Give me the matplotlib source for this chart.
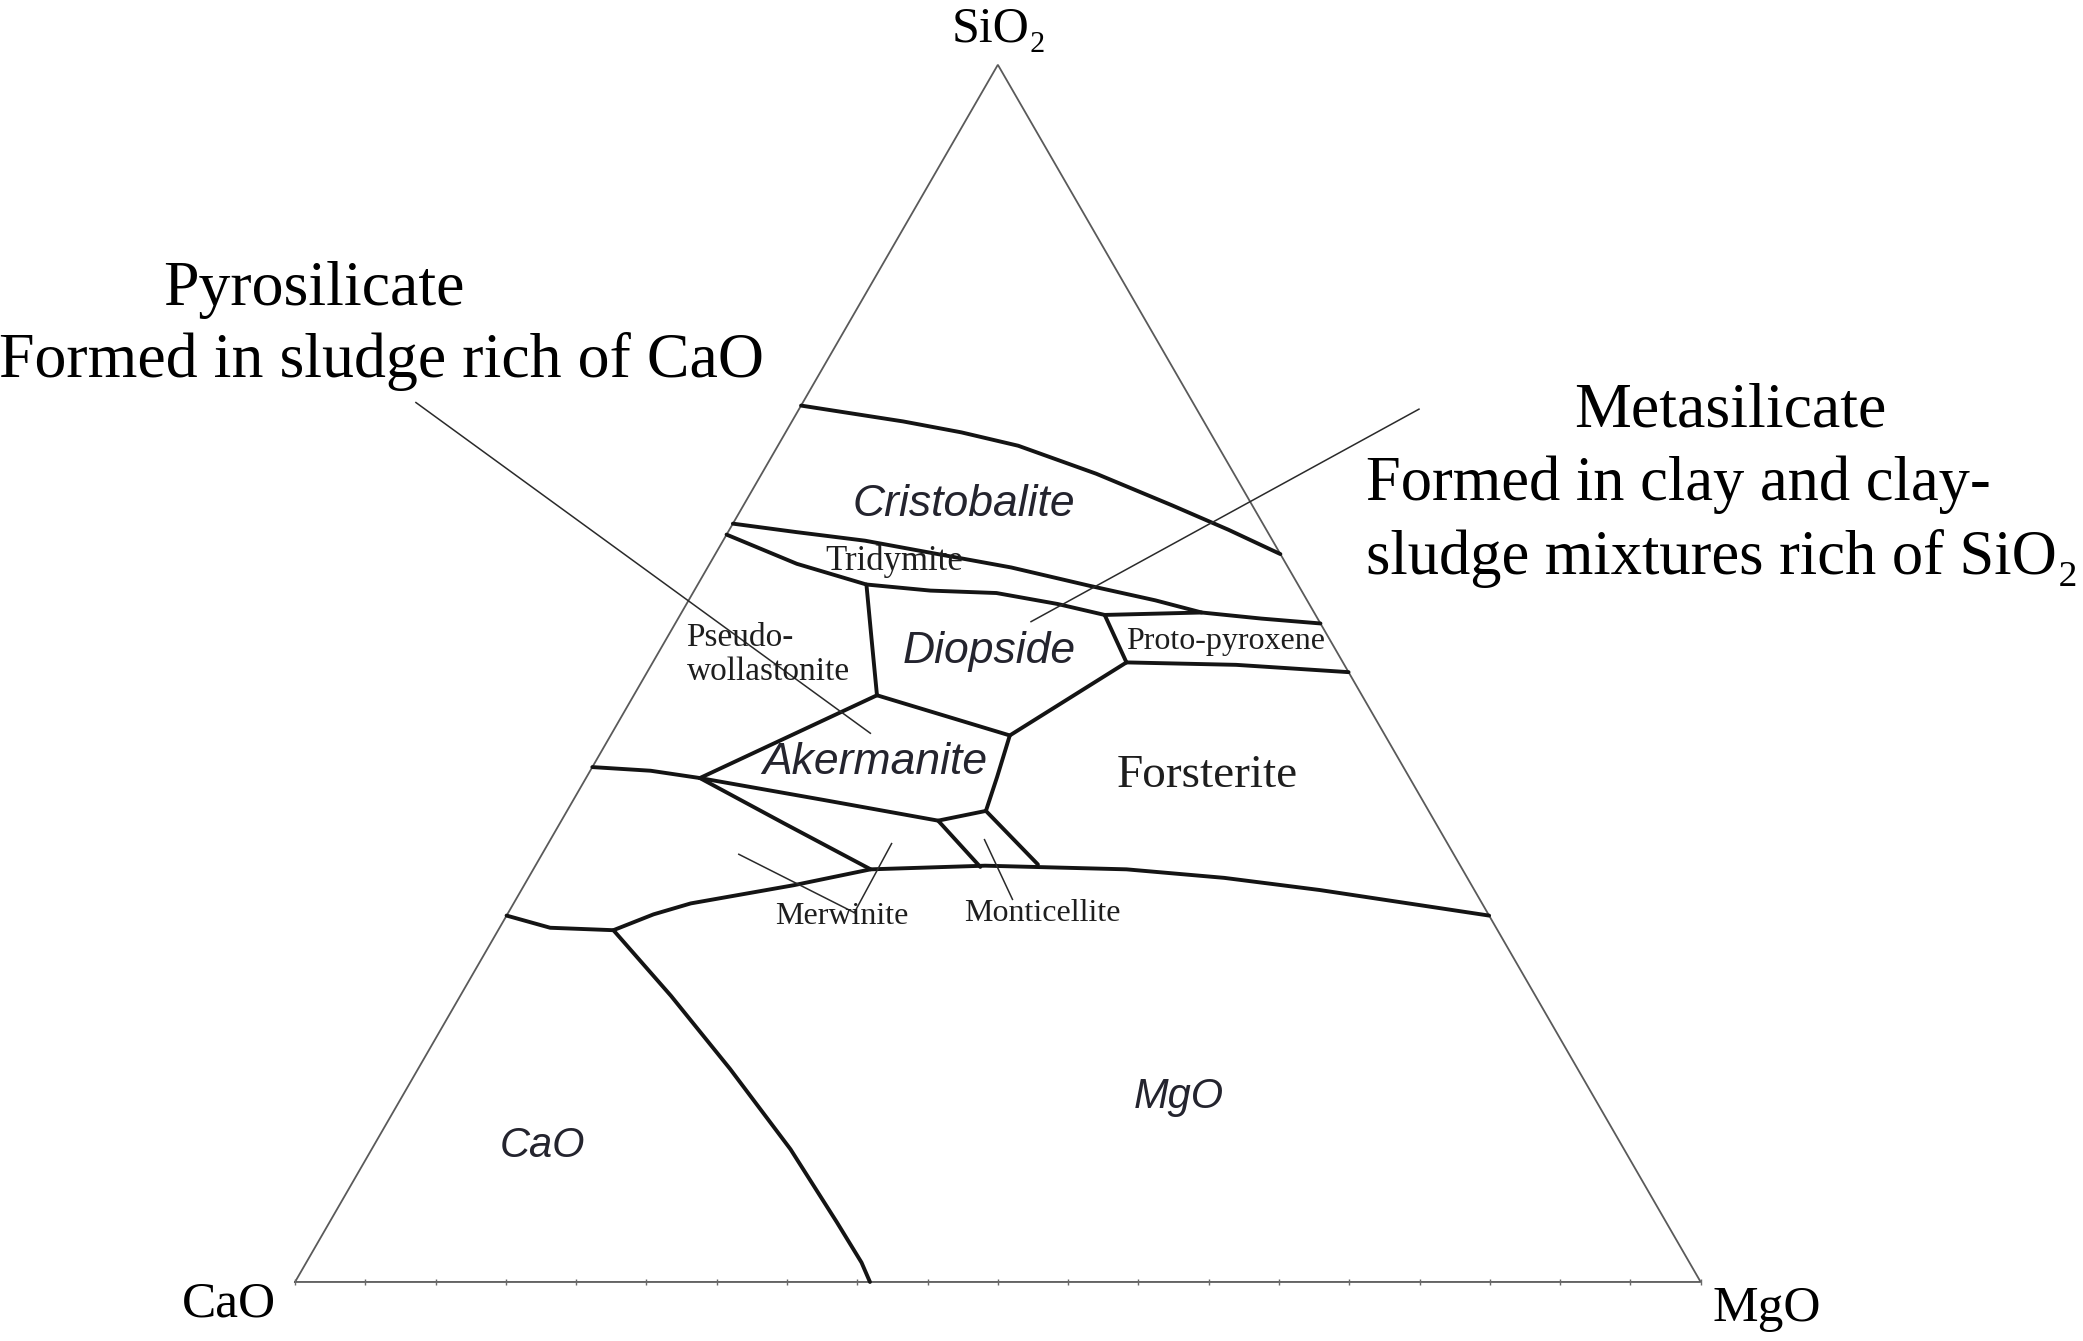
import numpy as np
import matplotlib
matplotlib.use("Agg")
import matplotlib.pyplot as plt

H = np.sqrt(3) / 2

# phase boundaries, points as (SiO2 %, MgO %), CaO is the rest
cristobalite_top = [(72.0, 0.0), (70.7, 7.9), (69.8, 12.5), (68.7, 17.1), (66.4, 23.8), (63.8, 30.5),
                    (61.8, 35.5), (59.8, 40.2)]
tridymite_top = [(62.3, 0.0), (61.6, 4.9), (60.9, 10.1), (59.9, 15.3), (58.7, 21.6),
                 (57.2, 27.9), (56.0, 33.2), (55.0, 37.0)]
protopyroxene_top = [(54.8, 30.2), (55.0, 37.0), (54.5, 41.5), (54.1, 45.9)]
tridymite_bottom = [(61.4, 0.0), (59.0, 6.2), (57.3, 12.0), (56.8, 16.8), (56.6, 21.6),
                    (55.7, 26.4), (54.8, 30.2)]
diopside_left = [(57.3, 12.0), (53.0, 14.5), (48.2, 17.3)]
diopside_bottom = [(48.2, 17.3), (44.9, 28.4), (50.9, 33.7)]
protopyroxene_left = [(54.8, 30.2), (50.9, 33.7)]
protopyroxene_bottom = [(50.9, 33.7), (50.7, 41.6), (50.1, 49.9)]
akermanite_top = [(41.4, 8.1), (48.2, 17.3)]
akermanite_right = [(44.9, 28.4), (41.5, 29.2), (38.7, 29.8)]
akermanite_bottom = [(41.4, 8.1), (39.6, 17.8), (37.9, 26.8), (38.7, 29.8)]
pseudowoll_bottom = [(42.3, 0.0), (42.0, 4.3), (41.4, 8.1)]
merwinite_top = [(41.4, 8.1), (37.7, 15.9), (33.9, 24.0)]
monticellite_left = [(37.9, 26.8), (34.1, 31.7)]
monticellite_right = [(38.7, 29.8), (34.3, 35.7)]
liquidus_low = [(30.1, 0.0), (29.1, 3.6), (28.9, 8.2), (30.2, 10.4), (31.1, 12.6), (32.6, 19.2),
                (33.9, 24.0), (34.2, 32.0), (33.9, 42.2), (33.2, 49.5), (32.2, 56.8), (30.1, 69.9)]
cao_mgo = [(28.9, 8.2), (23.5, 15.0), (17.5, 22.2), (10.9, 29.8), (4.9, 36.1), (1.6, 39.5), (0.0, 40.9)]

boundaries = [cristobalite_top, tridymite_top, protopyroxene_top, tridymite_bottom, diopside_left,
              diopside_bottom, protopyroxene_left, protopyroxene_bottom, akermanite_top,
              akermanite_right, akermanite_bottom, pseudowoll_bottom, merwinite_top,
              monticellite_left, monticellite_right, liquidus_low, cao_mgo]

# field names and where they sit (SiO2 %, MgO %)
serif_fields = ["Tridymite", "Proto-pyroxene", "Merwinite", "Monticellite"]
serif_pos = [(59.2, 13.0), (52.6, 39.9), (30.0, 23.9), (30.3, 38.0)]
italic_fields = ["Cristobalite", "Diopside", "Akermanite", "CaO", "MgO"]
italic_pos = [(63.9, 15.6), (51.8, 23.5), (42.7, 19.9), (11.2, 12.0), (15.2, 55.3)]

base_ticks = np.arange(0, 101, 5)


def tern(pts):
    a = np.array(pts, dtype=float) / 100.0
    s, m = a[:, 0], a[:, 1]
    return m + s / 2, s * H


fig = plt.figure(figsize=(20.83, 13.41), dpi=100)
ax = fig.add_axes([0, 0, 1, 1])
ax.set_xlim(-0.2099, 1.2720)
ax.set_ylim(-0.0420, 0.9121)
ax.axis("off")

serif = ["Liberation Serif", "DejaVu Serif"]
sans = ["Liberation Sans", "DejaVu Sans"]

# triangle
tx, ty = tern([(0, 0), (0, 100), (100, 0), (0, 0)])
ax.plot(tx, ty, color="#5a5a5a", lw=1.3, solid_joinstyle="miter")
bx, by = tern([(0, t) for t in base_ticks])
ax.plot(bx, by, ls="none", marker="|", ms=4, mew=1.0, color="#6a6a6a")

for b in boundaries:
    x, y = tern(b)
    ax.plot(x, y, color="#141414", lw=2.8, solid_capstyle="round", solid_joinstyle="round")

# leader lines
leaders = [((0.0860, 0.6257), (0.4093, 0.3904)),
           ((0.7996, 0.6210), (0.5236, 0.4698)),
           ((0.3157, 0.3043), (0.3979, 0.2628)),
           ((0.4244, 0.3119), (0.3979, 0.2628)),
           ((0.4905, 0.3147), (0.5104, 0.2722))]
for p0, p1 in leaders:
    ax.plot([p0[0], p1[0]], [p0[1], p1[1]], color="#2a2a2a", lw=1.1)

# corner labels
ax.text(0.501, 0.891, "SiO₂", family=serif, fontsize=36, ha="center", va="center")
ax.text(-0.047, -0.016, "CaO", family=serif, fontsize=37, ha="center", va="center")
ax.text(1.047, -0.019, "MgO", family=serif, fontsize=37, ha="center", va="center")

# annotations
ax.text(0.0132, 0.706, "Pyrosilicate", family=serif, fontsize=46, ha="center", va="center")
ax.text(0.0614, 0.655, "Formed in sludge rich of CaO", family=serif, fontsize=46, ha="center", va="center")
ax.text(1.0208, 0.619, "Metasilicate", family=serif, fontsize=46, ha="center", va="center")
ax.text(0.7618, 0.567, "Formed in clay and clay-", family=serif, fontsize=45, ha="left", va="center")
ax.text(0.7618, 0.515, "sludge mixtures rich of SiO₂", family=serif, fontsize=45, ha="left", va="center")

# field labels
for name, p in zip(serif_fields, serif_pos):
    x, y = tern([p])
    ax.text(x[0], y[0], name, family=serif, fontsize=25 if name == "Tridymite" else 23,
            ha="center", va="center", color="#1e1e1e")
x, y = tern([(51.5, 2.1)])
ax.text(x[0], y[0], "Pseudo-\nwollastonite", family=serif, fontsize=24, ha="left", va="center",
        linespacing=1.15, color="#1e1e1e")
x, y = tern([(41.6, 44.1)])
ax.text(x[0], y[0], "Forsterite", family=serif, fontsize=34, ha="center", va="center", color="#1e1e1e")
for name, p in zip(italic_fields, italic_pos):
    x, y = tern([p])
    ax.text(x[0], y[0], name, family=sans, style="italic", fontsize=32 if len(name) > 3 else 30,
            ha="center", va="center", color="#24242e")

fig.savefig("out.png", dpi=100)
